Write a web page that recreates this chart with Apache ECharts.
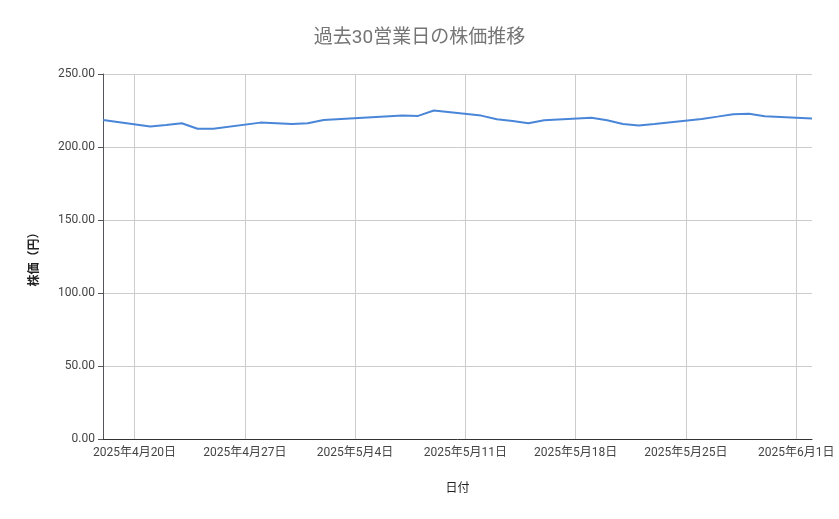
<!DOCTYPE html>
<html><head><meta charset="utf-8">
<script src="https://cdn.jsdelivr.net/npm/echarts@6/dist/echarts.min.js"></script>
<style>html,body{margin:0;background:#fff}#c{width:839px;height:519px}</style>
</head><body><div id="c"></div>
<script>
const dates = ['2025-04-18','2025-04-21','2025-04-22','2025-04-23','2025-04-24','2025-04-25','2025-04-28','2025-04-30','2025-05-01','2025-05-02','2025-05-07','2025-05-08','2025-05-09','2025-05-12','2025-05-13','2025-05-14','2025-05-15','2025-05-16','2025-05-19','2025-05-20','2025-05-21','2025-05-22','2025-05-23','2025-05-26','2025-05-27','2025-05-28','2025-05-29','2025-05-30','2025-06-02'];
const prices = [218.5,214.0,215.0,216.3,212.5,212.5,216.7,215.8,216.3,218.5,221.5,221.3,225.0,221.5,219.0,217.8,216.3,218.3,220.0,218.3,215.8,214.8,215.8,219.2,220.8,222.5,222.8,221.0,219.5];
const tickDates = ['2025-04-20','2025-04-27','2025-05-04','2025-05-11','2025-05-18','2025-05-25','2025-06-01'];
const yTicks = [0,50,100,150,200,250];

const DAY = 86400000;
function ts(s){ const p=s.split('-'); return Date.UTC(+p[0],+p[1]-1,+p[2]); }
const t0 = ts(dates[0]);
function off(s){ return Math.round((ts(s)-t0)/DAY); }
const font = 'Roboto, "Noto Sans CJK JP", sans-serif';
const tickOff = tickDates.map(off);

const chart = echarts.init(document.getElementById('c'));
chart.setOption({
  textStyle:{fontFamily:font},
  title:{text:'過去30営業日の株価推移',left:'center',top:24,textStyle:{fontSize:19,fontWeight:'normal',color:'#757575',fontFamily:font}},
  grid:{left:103,right:27,top:74,bottom:80},
  xAxis:{type:'value',min:0,max:off(dates[dates.length-1]),
    name:'日付',nameLocation:'middle',nameGap:44,nameTextStyle:{color:'#222',fontSize:12},
    axisLine:{show:true,lineStyle:{color:'#333'}},axisTick:{show:false,customValues:tickOff},
    axisLabel:{customValues:tickOff,color:'#444',fontSize:12,
      formatter:v=>{const d=new Date(t0+v*DAY);return d.getUTCFullYear()+'年'+(d.getUTCMonth()+1)+'月'+d.getUTCDate()+'日';}},
    splitLine:{show:true,lineStyle:{color:'#cccccc'}}},
  yAxis:{type:'value',min:yTicks[0],max:yTicks[yTicks.length-1],interval:50,
    name:'株価（円）',nameLocation:'middle',nameGap:62,nameRotate:90,nameTextStyle:{color:'#222',fontSize:12,fontWeight:'bold'},
    axisLabel:{color:'#444',fontSize:12,formatter:v=>v.toFixed(2)},
    splitLine:{lineStyle:{color:'#cccccc'}}},
  series:[{type:'line',data:dates.map((d,i)=>[off(d),prices[i]]),showSymbol:false,
    lineStyle:{color:'#4a86d8',width:2},itemStyle:{color:'#4a86d8'}}]
});
</script></body></html>
